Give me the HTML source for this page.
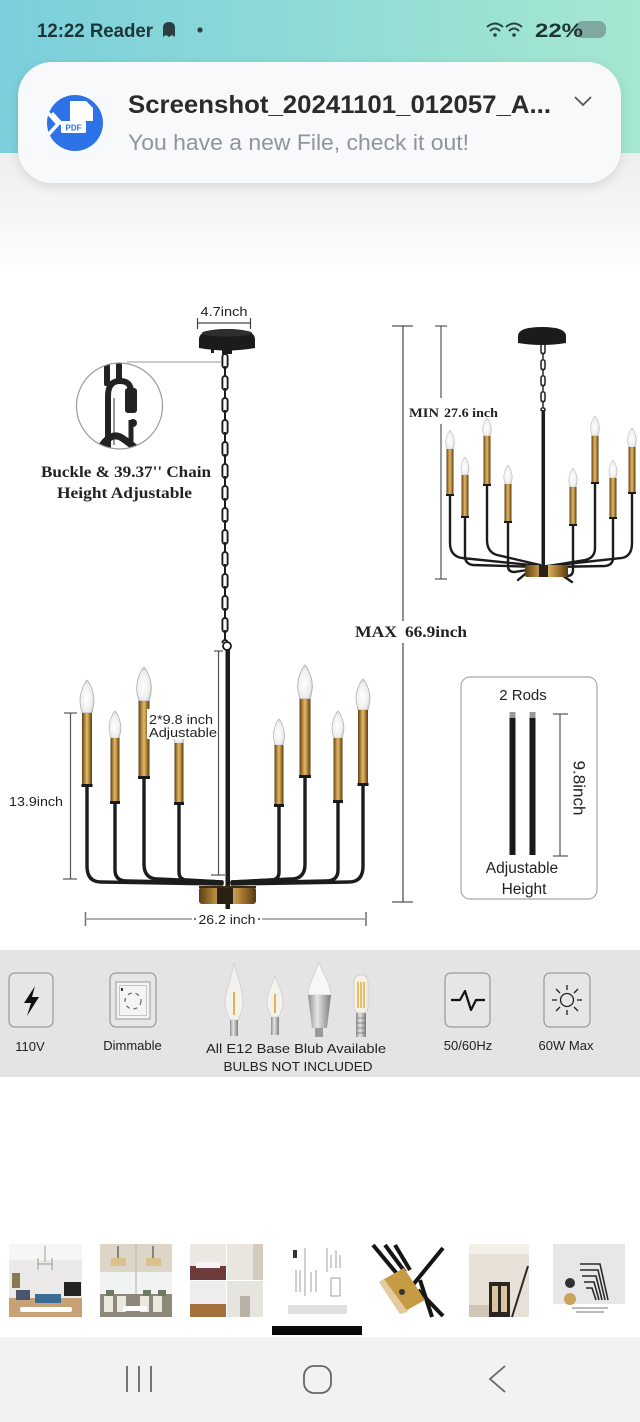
<!DOCTYPE html>
<html><head><meta charset="utf-8">
<style>
html,body{margin:0;padding:0;background:#fff;}
svg{display:block;}
</style></head>
<body>
<svg width="640" height="1422" viewBox="0 0 640 1422" xmlns="http://www.w3.org/2000/svg">
<defs>
<linearGradient id="teal" x1="0" y1="0" x2="1" y2="0">
<stop offset="0" stop-color="#7bcfdc"/><stop offset="0.5" stop-color="#8fdbd6"/><stop offset="1" stop-color="#a6e7d1"/>
</linearGradient>
<linearGradient id="fade" x1="0" y1="0" x2="0" y2="1">
<stop offset="0" stop-color="#eeeeee"/><stop offset="1" stop-color="#fefefe"/>
</linearGradient>
<linearGradient id="gold" x1="0" y1="0" x2="1" y2="0">
<stop offset="0" stop-color="#5a3f14"/><stop offset="0.25" stop-color="#ad8136"/><stop offset="0.5" stop-color="#dfbb70"/><stop offset="0.75" stop-color="#a77930"/><stop offset="1" stop-color="#563c12"/>
</linearGradient>
<radialGradient id="bulb" cx="0.45" cy="0.55" r="0.6">
<stop offset="0" stop-color="#ffffff"/><stop offset="0.7" stop-color="#eeeeee"/><stop offset="1" stop-color="#c4c4c4"/>
</radialGradient>
<linearGradient id="silver" x1="0" y1="0" x2="1" y2="0">
<stop offset="0" stop-color="#8d8d8d"/><stop offset="0.4" stop-color="#e6e6e6"/><stop offset="1" stop-color="#7d7d7d"/>
</linearGradient>
<filter id="sh" x="-10%" y="-20%" width="120%" height="150%">
<feDropShadow dx="0" dy="3" stdDeviation="5" flood-color="#000" flood-opacity="0.12"/>
</filter>
<path id="b" d="M0,0 C3,3 7,12 7,20 C7,26 5,30 5,32 L-5,32 C-5,30 -7,26 -7,20 C-7,12 -3,3 0,0 Z"/>
<pattern id="chainL" x="220" y="353" width="10" height="22" patternUnits="userSpaceOnUse">
<rect x="2.4" y="1" width="5.2" height="14" rx="2.6" fill="none" stroke="#1d1d1d" stroke-width="1.9"/>
<rect x="4" y="13" width="2" height="9" fill="#1d1d1d"/>
<rect x="4" y="0" width="2" height="2" fill="#1d1d1d"/>
</pattern>
<pattern id="chainR" x="539" y="343" width="8" height="16" patternUnits="userSpaceOnUse">
<rect x="2" y="0.8" width="4" height="10" rx="2" fill="none" stroke="#1d1d1d" stroke-width="1.5"/>
<rect x="3.3" y="9.5" width="1.4" height="6.5" fill="#1d1d1d"/>
</pattern>
<clipPath id="circ"><circle cx="119.5" cy="406" r="42.5"/></clipPath>
</defs>

<!-- backgrounds -->
<rect x="0" y="0" width="640" height="1422" fill="#ffffff"/>
<rect x="0" y="0" width="640" height="153" fill="url(#teal)"/>
<rect x="0" y="153" width="640" height="120" fill="url(#fade)"/>

<!-- status bar -->
<text x="37" y="37" font-family="Liberation Sans, sans-serif" font-size="19" font-weight="bold" fill="#1c3535" textLength="116" lengthAdjust="spacingAndGlyphs">12:22 Reader</text>
<path d="M163,37 L163,28 Q163,22 169,22 Q175,22 175,28 L175,37 L172,35 L169,37 L166,35 Z" fill="#2a4040"/>
<circle cx="200" cy="30" r="2.6" fill="#2a4040"/>
<g fill="none" stroke="#2a4040" stroke-width="2">
<path d="M487,27 Q495,20 503,27"/><path d="M490,31 Q495,26 500,31"/>
<path d="M506,27 Q514,20 522,27"/><path d="M509,31 Q514,26 519,31"/>
</g>
<circle cx="495" cy="35" r="1.8" fill="#2a4040"/><circle cx="514" cy="35" r="1.8" fill="#2a4040"/>
<rect x="576" y="21" width="30" height="17" rx="7" fill="#6f8f8a" opacity="0.7"/>
<text x="535" y="37" font-family="Liberation Sans, sans-serif" font-size="19" font-weight="bold" fill="#1c3535" textLength="48" lengthAdjust="spacingAndGlyphs">22%</text>

<!-- notification card -->
<rect x="18" y="62" width="603" height="121" rx="34" fill="#f7f9fa" filter="url(#sh)"/>
<circle cx="75" cy="123" r="28" fill="#2d72e6"/>
<path d="M70,101 L86,101 L93,108 L93,121 L70,121 Z" fill="#ffffff"/>
<path d="M48,113 L58,124 L48,135" fill="none" stroke="#fff" stroke-width="3.5"/>
<path d="M52,113 L62,124" fill="none" stroke="#fff" stroke-width="3"/>
<rect x="61" y="121" width="25" height="12" rx="1.5" fill="#ffffff"/>
<text x="73.5" y="130.5" text-anchor="middle" font-family="Liberation Sans, sans-serif" font-size="8" font-weight="bold" fill="#2d72e6">PDF</text>
<text x="128" y="113" font-family="Liberation Sans, sans-serif" font-size="25" font-weight="bold" fill="#2b2b2b" textLength="423" lengthAdjust="spacingAndGlyphs">Screenshot_20241101_012057_A...</text>
<text x="128" y="150" font-family="Liberation Sans, sans-serif" font-size="22" fill="#8e959c" textLength="341" lengthAdjust="spacingAndGlyphs">You have a new File, check it out!</text>
<path d="M575,97 L583,105 L591,97" fill="none" stroke="#555" stroke-width="1.8"/>

<!-- ===== LEFT CHANDELIER ===== -->
<text x="224" y="316" text-anchor="middle" font-family="Liberation Sans, sans-serif" font-size="12.5" fill="#222" textLength="47" lengthAdjust="spacingAndGlyphs">4.7inch</text>
<g stroke="#444" stroke-width="1.2">
<line x1="197" y1="323" x2="251" y2="323"/><line x1="197.5" y1="318" x2="197.5" y2="329"/><line x1="250.5" y1="318" x2="250.5" y2="329"/>
</g>
<path d="M199,348 L199,339 Q199,329 227,329 Q255,329 255,339 L255,348 Q227,353 199,348 Z" fill="#1b1b1b"/>
<ellipse cx="227" cy="333" rx="25" ry="3.5" fill="#2e2e2e"/>
<rect x="211" y="347" width="3" height="6" fill="#1b1b1b"/>
<rect x="222" y="348" width="10" height="6" fill="#1b1b1b"/>
<rect x="220" y="353" width="10" height="290" fill="url(#chainL)"/>
<circle cx="227" cy="646" r="4" fill="none" stroke="#1d1d1d" stroke-width="1.8"/>
<line x1="127" y1="362" x2="221" y2="362" stroke="#999" stroke-width="1"/>
<circle cx="119.5" cy="406" r="43" fill="#fff" stroke="#9b9b9b" stroke-width="1.2"/>
<g clip-path="url(#circ)">
<rect x="104" y="360" width="6" height="26" rx="2" fill="#222"/>
<rect x="116" y="360" width="6" height="22" rx="2" fill="#222"/>
<path d="M108,452 L108,396 Q108,381 120,381 Q131,381 131,392" fill="none" stroke="#222" stroke-width="6"/>
<path d="M114,445 L114,398" stroke="#555" stroke-width="1.2"/>
<rect x="125" y="388" width="12" height="25" rx="3" fill="#222"/>
<path d="M131,420 L131,444" fill="none" stroke="#222" stroke-width="5"/>
<circle cx="133" cy="423" r="4" fill="#222"/>
<path d="M98,452 Q110,430 122,438 Q131,444 140,452" fill="none" stroke="#222" stroke-width="7"/>
</g>
<text x="126" y="477" text-anchor="middle" font-family="Liberation Serif, serif" font-size="16" font-weight="bold" fill="#222" textLength="170" lengthAdjust="spacingAndGlyphs">Buckle &amp; 39.37'' Chain</text>
<text x="124.5" y="498" text-anchor="middle" font-family="Liberation Serif, serif" font-size="16" font-weight="bold" fill="#222" textLength="135" lengthAdjust="spacingAndGlyphs">Height Adjustable</text>

<!-- center rod -->
<rect x="225.5" y="649" width="4.5" height="248" fill="#1c1c1c"/>

<!-- arms -->
<g fill="none" stroke="#1c1c1c" stroke-width="3.4" stroke-linecap="round">
<path d="M87,786 L87,866 Q87,882 101,882 L222,884"/>
<path d="M115,803 L115,870 Q115,881 127,881 L222,883"/>
<path d="M144,778 L144,864 Q144,879 158,879 L222,882"/>
<path d="M179,804 L179,872 Q179,880 187,880 L222,882"/>
<path d="M279,806 L279,872 Q279,880 271,880 L232,882"/>
<path d="M305,777 L305,864 Q305,879 291,879 L232,882"/>
<path d="M338,802 L338,870 Q338,881 326,881 L232,883"/>
<path d="M363,785 L363,866 Q363,882 349,882 L232,884"/>
</g>
<!-- bulbs -->
<g fill="url(#bulb)" stroke="#b0b0b0" stroke-width="0.8">
<use href="#b" transform="translate(87,680) scale(1.0,1.03)"/>
<use href="#b" transform="translate(115,711) scale(0.85,0.85)"/>
<use href="#b" transform="translate(144,667) scale(1.05,1.06)"/>
<use href="#b" transform="translate(279,719) scale(0.8,0.82)"/>
<use href="#b" transform="translate(305,665) scale(1.05,1.06)"/>
<use href="#b" transform="translate(338,711) scale(0.85,0.85)"/>
<use href="#b" transform="translate(363,679) scale(1.0,0.97)"/>
<use href="#b" transform="translate(179,716) scale(0.85,0.85)"/>
</g>
<!-- sleeves -->
<g fill="url(#gold)">
<rect x="82" y="713" width="10" height="72"/>
<rect x="110.5" y="738" width="9" height="64"/>
<rect x="138.5" y="701" width="11" height="76"/>
<rect x="174.5" y="743" width="9" height="60"/>
<rect x="274.5" y="745" width="9" height="60"/>
<rect x="299.5" y="699" width="11" height="77"/>
<rect x="333.5" y="738" width="9" height="63"/>
<rect x="358" y="710" width="10" height="74"/>
</g>
<g fill="#1a1a1a">
<rect x="81.5" y="784" width="11" height="3"/>
<rect x="110" y="801" width="10" height="3"/>
<rect x="138" y="776" width="12" height="3"/>
<rect x="174" y="802" width="10" height="3"/>
<rect x="274" y="804" width="10" height="3"/>
<rect x="299" y="775" width="12" height="3"/>
<rect x="333" y="800" width="10" height="3"/>
<rect x="357.5" y="783" width="11" height="3"/>
</g>
<!-- body -->
<rect x="199" y="887" width="57" height="17" rx="3" fill="url(#gold)"/>
<rect x="217" y="887" width="16" height="17" fill="#2a2015"/>
<rect x="199" y="886" width="57" height="2" fill="#3a2c16"/>
<rect x="225.5" y="903" width="4.5" height="6" fill="#1c1c1c"/>

<!-- 2*9.8 dimension -->
<rect x="147" y="709" width="71" height="30" fill="#ffffff"/>
<g stroke="#555" stroke-width="1.2">
<line x1="218.5" y1="651" x2="218.5" y2="875"/><line x1="214" y1="651" x2="223" y2="651"/><line x1="211" y1="875" x2="225" y2="875"/>
</g>
<text x="149" y="724" font-family="Liberation Sans, sans-serif" font-size="13" fill="#222" textLength="64" lengthAdjust="spacingAndGlyphs">2*9.8 inch</text>
<text x="149" y="737" font-family="Liberation Sans, sans-serif" font-size="13" fill="#222" textLength="68" lengthAdjust="spacingAndGlyphs">Adjustable</text>

<!-- 13.9 dimension -->
<g stroke="#555" stroke-width="1.2">
<line x1="70.5" y1="713" x2="70.5" y2="879"/><line x1="64" y1="713" x2="77" y2="713"/><line x1="63" y1="879" x2="77" y2="879"/>
</g>
<text x="9" y="806" font-family="Liberation Sans, sans-serif" font-size="13" fill="#222" textLength="54" lengthAdjust="spacingAndGlyphs">13.9inch</text>

<!-- 26.2 dimension -->
<g stroke="#777" stroke-width="1.6">
<line x1="85" y1="919" x2="192" y2="919"/><line x1="262" y1="919" x2="366" y2="919"/>
<line x1="85.5" y1="912" x2="85.5" y2="926"/><line x1="366" y1="912" x2="366" y2="926"/>
</g>
<line x1="85" y1="919" x2="192" y2="919" stroke="#d6d6d6" stroke-width="0.5"/>
<line x1="262" y1="919" x2="366" y2="919" stroke="#d6d6d6" stroke-width="0.5"/>
<circle cx="195" cy="919" r="1" fill="#444"/><circle cx="259" cy="919" r="1" fill="#444"/>
<text x="227" y="924" text-anchor="middle" font-family="Liberation Sans, sans-serif" font-size="13" fill="#222" textLength="57" lengthAdjust="spacingAndGlyphs">26.2 inch</text>

<!-- MAX line -->
<g stroke="#555" stroke-width="1.3">
<line x1="403" y1="326" x2="403" y2="621"/><line x1="403" y1="643" x2="403" y2="902"/>
<line x1="392" y1="326" x2="413" y2="326"/><line x1="392" y1="902" x2="413" y2="902"/>
</g>
<text x="355" y="637" font-family="Liberation Serif, serif" font-size="16" font-weight="bold" fill="#222" textLength="42" lengthAdjust="spacingAndGlyphs">MAX</text>
<text x="405" y="637" font-family="Liberation Serif, serif" font-size="16" font-weight="bold" fill="#222" textLength="62" lengthAdjust="spacingAndGlyphs">66.9inch</text>

<!-- ===== RIGHT CHANDELIER ===== -->
<g stroke="#555" stroke-width="1.2">
<line x1="441" y1="326" x2="441" y2="398"/><line x1="441" y1="424" x2="441" y2="579"/>
<line x1="435" y1="326" x2="447" y2="326"/><line x1="435" y1="579" x2="447" y2="579"/>
</g>
<text x="409" y="417" font-family="Liberation Serif, serif" font-size="13" font-weight="bold" fill="#222" textLength="30" lengthAdjust="spacingAndGlyphs">MIN</text>
<text x="444" y="417" font-family="Liberation Serif, serif" font-size="13" font-weight="bold" fill="#222" textLength="54" lengthAdjust="spacingAndGlyphs">27.6 inch</text>
<path d="M518,343 L518,336 Q518,327 542,327 Q566,327 566,336 L566,343 Q542,347 518,343 Z" fill="#1b1b1b"/>
<rect x="539" y="343" width="8" height="68" fill="url(#chainR)"/>
<rect x="541.5" y="410" width="3.5" height="158" fill="#1c1c1c"/>
<g fill="none" stroke="#1c1c1c" stroke-width="2.4" stroke-linecap="round">
<path d="M450,496 L450,543 Q450,556 462,558 L540,566"/>
<path d="M465,518 L465,556 Q465,564 473,565 L540,567"/>
<path d="M487,486 L487,540 Q487,552 497,555 L540,565"/>
<path d="M508,523 L508,566 Q508,572 514,572 L540,568"/>
<path d="M573,526 L573,570 Q573,576 567,576 L548,569"/>
<path d="M595,484 L595,548 Q595,558 585,560 L548,566"/>
<path d="M613,519 L613,558 Q613,565 605,566 L548,567"/>
<path d="M632,494 L632,543 Q632,556 622,558 L548,566"/>
<path d="M530,570 L518,580"/><path d="M556,571 L572,582"/>
</g>
<g fill="url(#bulb)" stroke="#b0b0b0" stroke-width="0.8">
<use href="#b" transform="translate(450,430) scale(0.62,0.6)"/>
<use href="#b" transform="translate(465,457) scale(0.58,0.56)"/>
<use href="#b" transform="translate(487,418) scale(0.62,0.56)"/>
<use href="#b" transform="translate(508,465) scale(0.6,0.6)"/>
<use href="#b" transform="translate(573,468) scale(0.6,0.6)"/>
<use href="#b" transform="translate(595,416) scale(0.62,0.62)"/>
<use href="#b" transform="translate(613,460) scale(0.58,0.56)"/>
<use href="#b" transform="translate(632,428) scale(0.62,0.6)"/>
</g>
<g fill="url(#gold)">
<rect x="446.5" y="449" width="7" height="46"/>
<rect x="461.5" y="475" width="7" height="42"/>
<rect x="483.5" y="436" width="7" height="49"/>
<rect x="504.5" y="484" width="7" height="38"/>
<rect x="569.5" y="487" width="7" height="38"/>
<rect x="591.5" y="436" width="7" height="47"/>
<rect x="609.5" y="478" width="7" height="40"/>
<rect x="628.5" y="447" width="7" height="46"/>
</g>
<g fill="#1a1a1a">
<rect x="446" y="494" width="8" height="2"/><rect x="461" y="516" width="8" height="2"/>
<rect x="483" y="484" width="8" height="2"/><rect x="504" y="521" width="8" height="2"/>
<rect x="569" y="524" width="8" height="2"/><rect x="591" y="482" width="8" height="2"/>
<rect x="609" y="517" width="8" height="2"/><rect x="628" y="492" width="8" height="2"/>
</g>
<rect x="525" y="565" width="43" height="12" rx="2" fill="url(#gold)"/>
<rect x="539" y="565" width="9" height="12" fill="#2a2015"/>

<!-- rods box -->
<rect x="461" y="677" width="136" height="222" rx="9" fill="none" stroke="#a8a8a8" stroke-width="1.2"/>
<text x="523" y="700" text-anchor="middle" font-family="Liberation Sans, sans-serif" font-size="15" fill="#222">2 Rods</text>
<rect x="509.5" y="712" width="6" height="143" fill="#1a1a1a"/>
<rect x="529.5" y="712" width="6" height="143" fill="#1a1a1a"/>
<rect x="509.5" y="712" width="6" height="6" fill="#9a9a9a"/>
<rect x="529.5" y="712" width="6" height="6" fill="#9a9a9a"/>
<g stroke="#555" stroke-width="1.2">
<line x1="560" y1="714" x2="560" y2="856"/><line x1="553" y1="714" x2="568" y2="714"/><line x1="553" y1="856" x2="568" y2="856"/>
</g>
<text transform="translate(579,788) rotate(90)" text-anchor="middle" dominant-baseline="central" font-family="Liberation Sans, sans-serif" font-size="17" fill="#222">9.8inch</text>
<text x="522" y="873" text-anchor="middle" font-family="Liberation Sans, sans-serif" font-size="15.5" fill="#222">Adjustable</text>
<text x="524" y="894" text-anchor="middle" font-family="Liberation Sans, sans-serif" font-size="15.5" fill="#222">Height</text>

<!-- ===== FEATURE BAND ===== -->
<rect x="0" y="950" width="640" height="127" fill="#e4e4e4"/>
<g fill="#e6e6e6" stroke="#8a8a8a" stroke-width="1">
<rect x="9" y="973" width="44" height="54" rx="6"/>
<rect x="110" y="973" width="46" height="54" rx="6"/>
<rect x="445" y="973" width="45" height="54" rx="6"/>
<rect x="544" y="973" width="46" height="54" rx="6"/>
</g>
<path d="M35,986 L24,1003 L31,1003 L27,1016 L39,997 L32,997 Z" fill="#111"/>
<rect x="116" y="982" width="34" height="37" fill="#f4f4f4" stroke="#999" stroke-width="1"/>
<rect x="119.5" y="985.5" width="27" height="30" fill="none" stroke="#bbb" stroke-width="0.8"/>
<circle cx="133" cy="1001" r="8" fill="none" stroke="#666" stroke-width="1.2" stroke-dasharray="4,4"/>
<rect x="121" y="988" width="2" height="3" fill="#333"/>
<path d="M451,1000 L460,1000 L465,991 L471,1010 L476,1000 L485,1000" fill="none" stroke="#111" stroke-width="2.2" stroke-linejoin="round"/>
<circle cx="567" cy="1000" r="6.5" fill="none" stroke="#222" stroke-width="1.3"/>
<g stroke="#222" stroke-width="1.3">
<line x1="567" y1="985" x2="567" y2="990"/><line x1="567" y1="1010" x2="567" y2="1015"/>
<line x1="552" y1="1000" x2="557" y2="1000"/><line x1="577" y1="1000" x2="582" y2="1000"/>
<line x1="556" y1="989" x2="560" y2="993"/><line x1="574" y1="1007" x2="578" y2="1011"/>
<line x1="578" y1="989" x2="574" y2="993"/><line x1="560" y1="1007" x2="556" y2="1011"/>
</g>
<!-- bulbs -->
<path d="M234,962 C236,975 243,988 243,1002 C243,1012 238,1018 238,1020 L230,1020 C230,1018 225,1012 225,1002 C225,990 232,980 234,962 Z" fill="#f4f2ec" stroke="#cfcfcf" stroke-width="0.8"/>
<line x1="234" y1="992" x2="234" y2="1015" stroke="#e4b24a" stroke-width="2"/>
<rect x="230" y="1020" width="8" height="16" fill="url(#silver)"/>
<path d="M275,976 C278,985 283,992 283,1002 C283,1010 279,1015 279,1017 L271,1017 C271,1015 267,1010 267,1002 C267,992 272,985 275,976 Z" fill="#f4f2ec" stroke="#cfcfcf" stroke-width="0.8"/>
<line x1="275" y1="994" x2="275" y2="1013" stroke="#e4b24a" stroke-width="2"/>
<rect x="271" y="1017" width="8" height="18" fill="url(#silver)"/>
<path d="M319,962 C322,972 331,985 331,995 L308,995 C308,985 316,972 319,962 Z" fill="#f7f7f7" stroke="#cfcfcf" stroke-width="0.8"/>
<path d="M308,995 L331,995 L327,1028 L312,1028 Z" fill="url(#silver)"/>
<rect x="315" y="1028" width="8" height="9" fill="#9a9a9a"/>
<rect x="354" y="975" width="14" height="38" rx="6" fill="#f5f1e4" stroke="#c9c9c9" stroke-width="0.8"/>
<line x1="358" y1="982" x2="358" y2="1008" stroke="#e0b048" stroke-width="1.5"/>
<line x1="361" y1="982" x2="361" y2="1008" stroke="#e0b048" stroke-width="1.5"/>
<line x1="364" y1="982" x2="364" y2="1008" stroke="#e0b048" stroke-width="1.5"/>
<rect x="356" y="1013" width="10" height="24" fill="url(#silver)"/>
<g stroke="#777" stroke-width="0.8"><line x1="356" y1="1018" x2="366" y2="1018"/><line x1="356" y1="1023" x2="366" y2="1023"/><line x1="356" y1="1028" x2="366" y2="1028"/><line x1="356" y1="1033" x2="366" y2="1033"/></g>
<g font-family="Liberation Sans, sans-serif" font-size="13" fill="#222" text-anchor="middle">
<text x="30" y="1051">110V</text>
<text x="132.5" y="1050">Dimmable</text>
<text x="296" y="1053" textLength="180" lengthAdjust="spacingAndGlyphs">All E12 Base Blub Available</text>
<text x="298" y="1071" textLength="149" lengthAdjust="spacingAndGlyphs">BULBS NOT INCLUDED</text>
<text x="468" y="1050">50/60Hz</text>
<text x="566" y="1050">60W Max</text>
</g>

<!-- ===== THUMBNAILS ===== -->
<rect x="9" y="1244" width="73" height="73" fill="#ebeae8"/>
<rect x="9" y="1244" width="73" height="16" fill="#f6f6f6"/>
<rect x="12" y="1273" width="8" height="15" fill="#8a7a50"/>
<rect x="64" y="1282" width="17" height="14" fill="#222"/>
<rect x="9" y="1298" width="73" height="19" fill="#c8a277"/>
<rect x="35" y="1294" width="26" height="9" fill="#3a6d95"/>
<rect x="16" y="1290" width="14" height="10" fill="#49566a"/>
<rect x="20" y="1307" width="52" height="5" rx="2" fill="#ffffff"/>
<g stroke="#9d9a92" stroke-width="1"><line x1="45" y1="1246" x2="45" y2="1262"/><line x1="37" y1="1264" x2="53" y2="1264"/><line x1="38" y1="1258" x2="38" y2="1270"/><line x1="52" y1="1258" x2="52" y2="1270"/></g>
<rect x="100" y="1244" width="72" height="73" fill="#ddd6c8"/>
<rect x="100" y="1272" width="72" height="22" fill="#f1f3f3"/>
<line x1="136" y1="1244" x2="136" y2="1317" stroke="#c9c3b6" stroke-width="1.5"/>
<rect x="100" y="1294" width="72" height="23" fill="#8d887a"/>
<g fill="#ece8df"><rect x="104" y="1296" width="9" height="16"/><rect x="117" y="1296" width="9" height="16"/><rect x="140" y="1296" width="9" height="16"/><rect x="153" y="1296" width="9" height="16"/></g>
<g fill="#6f7a62"><rect x="106" y="1290" width="8" height="6"/><rect x="143" y="1290" width="8" height="6"/><rect x="158" y="1290" width="8" height="6"/></g>
<rect x="123" y="1306" width="24" height="5" fill="#fff"/>
<g stroke="#333" stroke-width="1"><line x1="118" y1="1246" x2="118" y2="1258"/><line x1="153" y1="1246" x2="153" y2="1258"/></g>
<g fill="#d9c08c"><rect x="111" y="1258" width="15" height="8"/><rect x="146" y="1258" width="15" height="8"/></g>
<rect x="190" y="1244" width="36" height="36" fill="#ebe7e2"/>
<rect x="190" y="1266" width="36" height="14" fill="#6d3b3b"/>
<rect x="196" y="1262" width="24" height="6" fill="#f4f4f4"/>
<rect x="227" y="1244" width="36" height="36" fill="#e9e6df"/>
<rect x="253" y="1244" width="10" height="36" fill="#d4ccbf"/>
<rect x="190" y="1281" width="36" height="36" fill="#ededed"/>
<rect x="190" y="1304" width="36" height="13" fill="#a5713f"/>
<rect x="227" y="1281" width="36" height="36" fill="#e6e4df"/>
<rect x="240" y="1296" width="10" height="21" fill="#b8b2a6"/>
<rect x="288" y="1244" width="59" height="73" fill="#ffffff"/>
<g stroke="#888" stroke-width="0.8" fill="none">
<line x1="305" y1="1248" x2="305" y2="1296"/><line x1="296" y1="1270" x2="296" y2="1292"/><line x1="300" y1="1270" x2="300" y2="1292"/><line x1="311" y1="1272" x2="311" y2="1292"/><line x1="316" y1="1270" x2="316" y2="1292"/>
<line x1="327" y1="1248" x2="327" y2="1272"/><line x1="336" y1="1250" x2="336" y2="1268"/><line x1="331" y1="1255" x2="331" y2="1268"/><line x1="340" y1="1255" x2="340" y2="1268"/>
<rect x="331" y="1278" width="9" height="18"/>
</g>
<rect x="293" y="1250" width="4" height="8" fill="#333"/>
<rect x="288" y="1305" width="59" height="9" fill="#e0e0e0"/>
<rect x="371" y="1244" width="74" height="73" fill="#ffffff"/>
<g stroke="#151515" stroke-width="4" stroke-linecap="butt">
<line x1="373" y1="1245" x2="398" y2="1275"/><line x1="385" y1="1245" x2="405" y2="1272"/><line x1="395" y1="1245" x2="410" y2="1270"/>
<line x1="443" y1="1248" x2="412" y2="1286"/><line x1="418" y1="1290" x2="443" y2="1316"/><line x1="420" y1="1280" x2="432" y2="1317"/>
</g>
<path d="M379,1282 L404,1268 L425,1300 L400,1314 Z" fill="#c79a44"/>
<path d="M379,1282 L384,1279 L408,1312 L400,1314 Z" fill="#e2cba0"/>
<circle cx="402" cy="1292" r="3" fill="#333"/>
<rect x="469" y="1244" width="60" height="73" fill="#e7e1d7"/>
<rect x="469" y="1244" width="60" height="10" fill="#f3f0ea"/>
<rect x="489" y="1282" width="21" height="35" fill="#2a2520"/>
<rect x="492" y="1286" width="6" height="26" fill="#d9c4a0"/>
<rect x="501" y="1286" width="6" height="26" fill="#d9c4a0"/>
<path d="M512,1317 L528,1266" stroke="#2a2a2a" stroke-width="2"/>
<rect x="469" y="1305" width="20" height="12" fill="#cfc6b8"/>
<rect x="553" y="1244" width="72" height="73" fill="#ffffff"/>
<rect x="553" y="1244" width="72" height="60" fill="#e7e7e7"/>
<circle cx="570" cy="1283" r="5" fill="#333"/>
<circle cx="570" cy="1299" r="6" fill="#c9a35e"/>
<g stroke="#2a2a2a" stroke-width="1.6" fill="none">
<path d="M580,1264 L600,1264 L608,1300"/><path d="M580,1270 L598,1270 L605,1300"/><path d="M582,1276 L596,1276 L602,1300"/><path d="M584,1282 L594,1282 L599,1300"/><path d="M586,1288 L592,1288 L596,1300"/>
</g>
<rect x="572" y="1307" width="36" height="2" fill="#bbb"/>
<rect x="576" y="1311" width="28" height="2" fill="#bbb"/>

<rect x="272" y="1326" width="90" height="9" fill="#0a0a0a"/>

<!-- nav bar -->
<rect x="0" y="1337" width="640" height="85" fill="#f2f2f2"/>
<g stroke="#666" stroke-width="1.8" fill="none">
<line x1="127" y1="1366" x2="127" y2="1392"/><line x1="139" y1="1366" x2="139" y2="1392"/><line x1="151" y1="1366" x2="151" y2="1392"/>
<rect x="304" y="1366" width="27" height="27" rx="10"/>
<path d="M505,1366 L490,1379 L505,1392"/>
</g>
</svg>
</body></html>
